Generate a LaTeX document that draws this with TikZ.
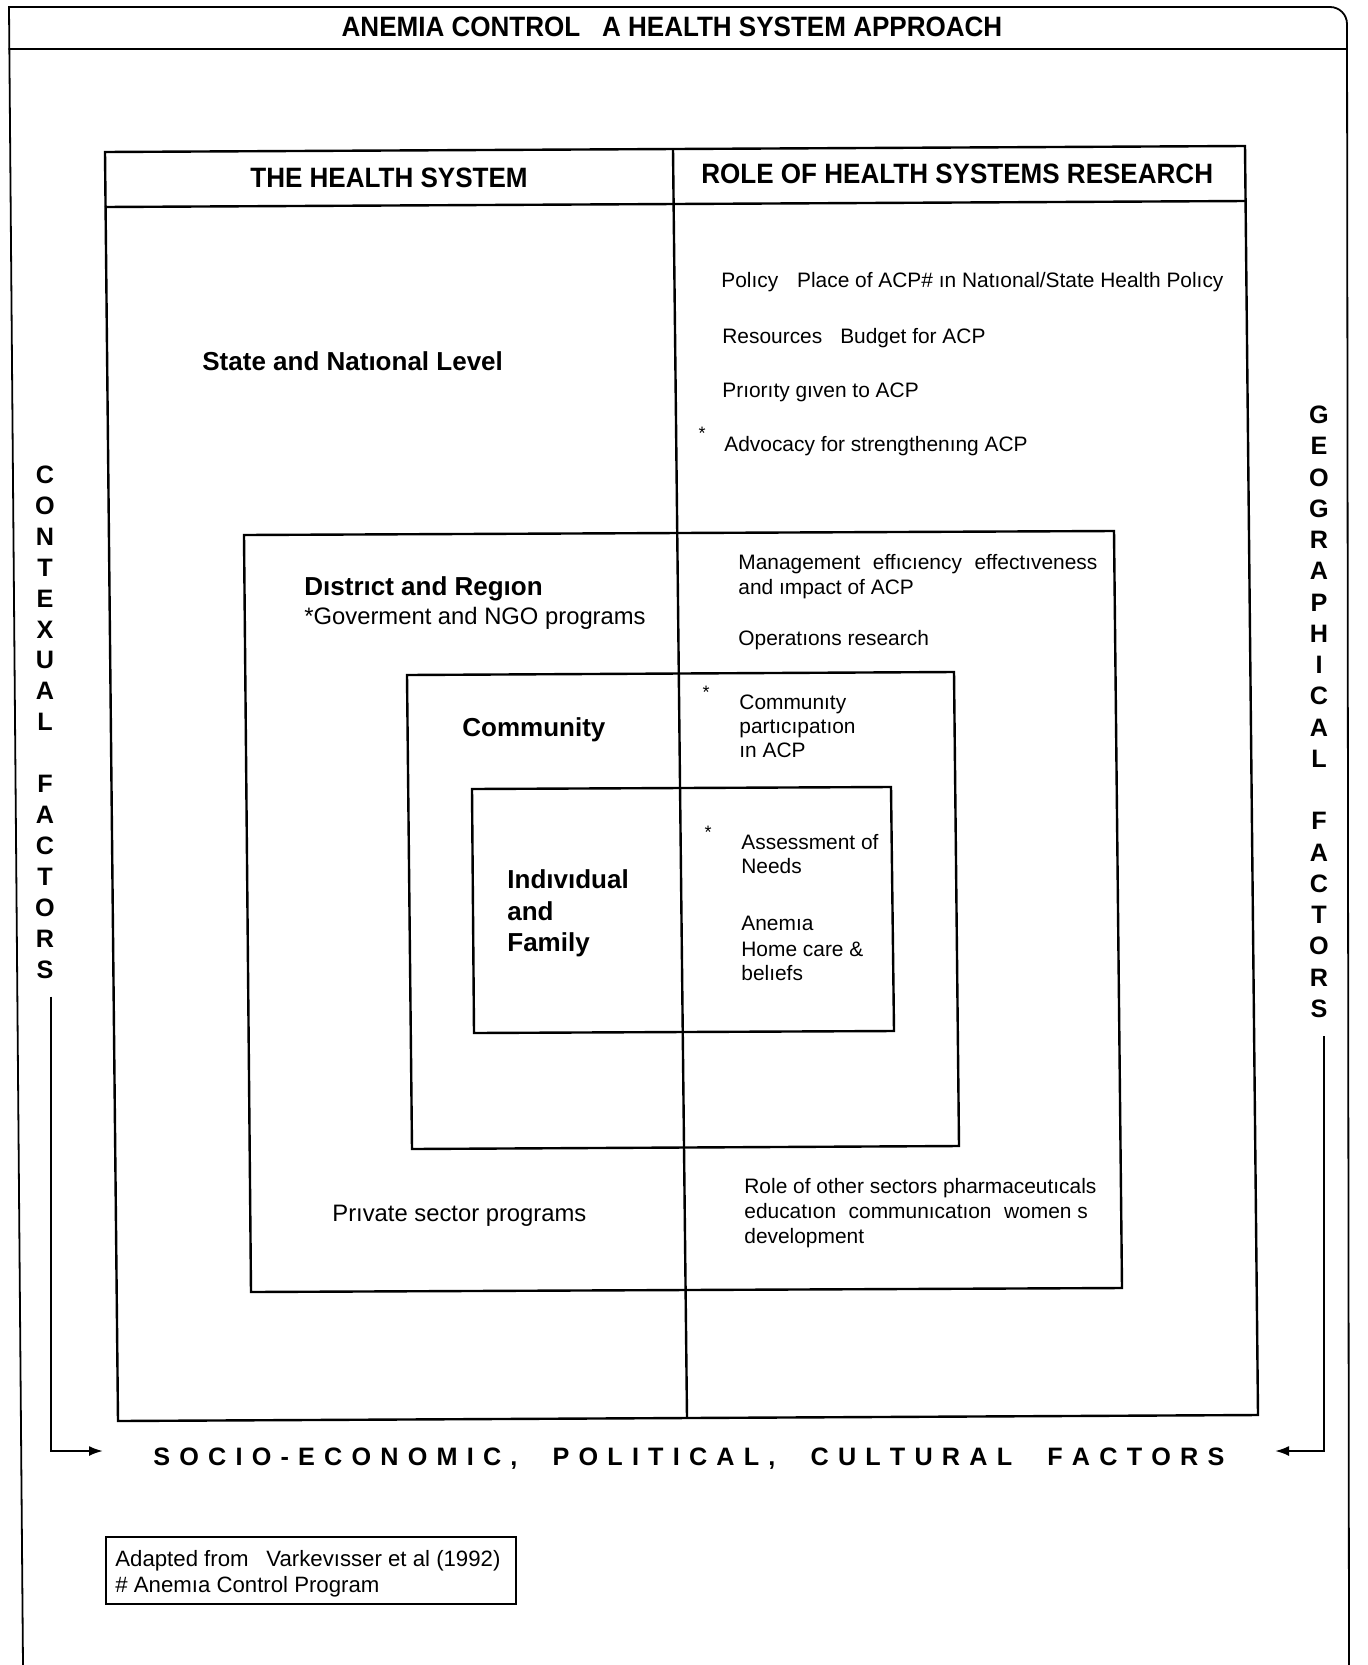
\documentclass[tikz,border=0pt]{standalone}
\usepackage{fontspec}
\usepackage{graphicx}
\setmainfont{Liberation Sans}
\usetikzlibrary{arrows.meta}

% letter-spaced word: every character followed by a fixed gap
\newcommand\spreadword[1]{\spreadstep#1\relax}
\def\spreadstep#1{\ifx#1\relax\else#1\hspace{4.6pt}\expandafter\spreadstep\fi}

\tikzset{
  frame/.style={line width=0.9pt, line cap=round},
  boxline/.style={line width=1.2pt, line join=miter},
  txt/.style={anchor=base west, inner sep=0pt, font=\fontsize{10.45}{12.75}\selectfont},
  midtxt/.style={anchor=base west, inner sep=0pt, font=\fontsize{11.9}{14}\selectfont},
  lvl/.style={anchor=base west, inner sep=0pt, font=\fontsize{13}{15.75}\selectfont\bfseries},
  head/.style={anchor=base west, inner sep=0pt, font=\fontsize{14}{17}\selectfont\bfseries},
  vlet/.style={inner sep=0pt, font=\fontsize{12.6}{15}\selectfont\bfseries},
  note/.style={anchor=base west, inner sep=0pt, font=\fontsize{11.1}{13}\selectfont},
  starmark/.style={inner sep=0pt, font=\fontsize{9}{10}\selectfont},
  arr/.style={line width=1.1pt, -{Latex[length=7pt,width=5pt]}}
}

\begin{document}
\begin{tikzpicture}[x=0.5pt, y=-0.5pt]
  \fill[white] (0,0) rectangle (1367,1665);
  \useasboundingbox (0,0) rectangle (1367,1665);

  % page frame with title strip
  \draw[frame] (23,1665) -- (9,7) -- (1330,7) to[out=0,in=90] (1347,24) -- (1349,1665);
  \draw[frame] (9,49) -- (1347,49);
  \node[head, anchor=base] (title) at (672,36)
    {\scalebox{0.93}[1]{ANEMIA CONTROL~~~A HEALTH SYSTEM APPROACH}};

  % the health system: outer box, header strip and divider
  \draw[boxline] (105,152) -- (1245,146) -- (1258,1415) -- (118,1421) -- cycle;
  \draw[boxline] (105,207) -- (1246,201);
  \draw[boxline] (673,149) -- (687,1418);
  \node[head] (hsys) at (250,187) {\scalebox{0.93}[1]{THE HEALTH SYSTEM}};
  \node[head] (hsr) at (701,183) {\scalebox{0.93}[1]{ROLE OF HEALTH SYSTEMS RESEARCH}};

  % nested levels
  \draw[boxline] (244,535) -- (1114,531) -- (1122,1288) -- (251,1292) -- cycle;
  \draw[boxline] (407,675) -- (954,672) -- (959,1146) -- (412,1149) -- cycle;
  \draw[boxline] (472,789) -- (891,787) -- (894,1031) -- (474,1033) -- cycle;

  % state and national level
  \node[lvl] (state) at (202,370) {State and Natıonal Level};
  \node[txt] (pol) at (721,287) {Polıcy\hspace{0.9em}Place of ACP\# ın Natıonal/State Health Polıcy};
  \node[txt] (res) at (722,343) {Resources\hspace{0.86em}Budget for ACP};
  \node[txt] (prio) at (722,397) {Prıorıty gıven to ACP};
  \node[starmark] (s1) at (702,433) {*};
  \node[txt] (adv) at (724,451) {Advocacy for strengthenıng ACP};

  % district and region
  \node[lvl] (dist) at (304,595) {Dıstrıct and Regıon};
  \node[midtxt] (gov) at (304,624) {*Goverment and NGO programs};
  \node[txt] (mgmt1) at (738,569) {Management\hspace{0.6em}effıcıency\hspace{0.6em}effectıveness};
  \node[txt] (mgmt2) at (738,594) {and ımpact of ACP};
  \node[txt] (ops) at (738,645) {Operatıons research};
  \node[midtxt] (priv) at (332,1221) {Prıvate sector programs};
  \node[txt] (role1) at (744,1193) {Role of other sectors pharmaceutıcals};
  \node[txt] (role2) at (744,1218) {educatıon\hspace{0.6em}communıcatıon\hspace{0.6em}women s};
  \node[txt] (role3) at (744,1243) {development};

  % community
  \node[lvl] (comm) at (462,736) {Community};
  \node[starmark] (s2) at (706,692) {*};
  \node[txt] (cp1) at (739,709) {Communıty};
  \node[txt] (cp2) at (739,733) {partıcıpatıon};
  \node[txt] (cp3) at (739,757) {ın ACP};

  % individual and family
  \node[lvl] (ind1) at (507,888) {Indıvıdual};
  \node[lvl] (ind2) at (507,920) {and};
  \node[lvl] (ind3) at (507,951) {Family};
  \node[starmark] (s3) at (708,832) {*};
  \node[txt] (as1) at (741,849) {Assessment of};
  \node[txt] (as2) at (741,873) {Needs};
  \node[txt] (an1) at (741,930) {Anemıa};
  \node[txt] (an2) at (741,956) {Home care \&};
  \node[txt] (an3) at (741,980) {belıefs};

  % side labels, stacked letters
  \foreach \ch/\k [count=\i] in {C/0,O/1,N/2,T/3,E/4,X/5,U/6,A/7,L/8,F/10,A/11,C/12,T/13,O/14,R/15,S/16}
    \node[vlet] (cf\i) at ({45},{475+30.9*\k}) {\ch};
  \foreach \ch/\k [count=\i] in {G/0,E/1,O/2,G/3,R/4,A/5,P/6,H/7,I/8,C/9,A/10,L/11,F/13,A/14,C/15,T/16,O/17,R/18,S/19}
    \node[vlet] (gf\i) at ({1319},{415+31.25*\k}) {\ch};

  % bottom label and the two arrows feeding it
  \node[anchor=base west, inner sep=0pt, font=\fontsize{12.6}{15}\selectfont\bfseries] (socio) at (153,1465)
    {\spreadword{SOCIO-ECONOMIC,}\hspace{13pt}\spreadword{POLITICAL,}\hspace{13pt}\spreadword{CULTURAL}\hspace{13pt}\spreadword{FACTORS}};
  \coordinate (lbend) at (51,1451);
  \coordinate (ltip) at (103,1451);
  \coordinate (rbend) at (1324,1451);
  \coordinate (rtip) at (1275,1451);
  \draw[arr] ([yshift=-9pt]cf16.south -| lbend) -- (lbend) -- (ltip);
  \draw[arr] ([yshift=-9pt]gf19.south -| rbend) -- (rbend) -- (rtip);

  % source note
  \draw[line width=0.9pt] (106,1537) rectangle (516,1604);
  \node[note] (src1) at (115,1566) {Adapted from\hspace{0.8em}Varkevısser et al (1992)};
  \node[note] (src2) at (115,1592) {\# Anemıa Control Program};
\end{tikzpicture}
\end{document}
